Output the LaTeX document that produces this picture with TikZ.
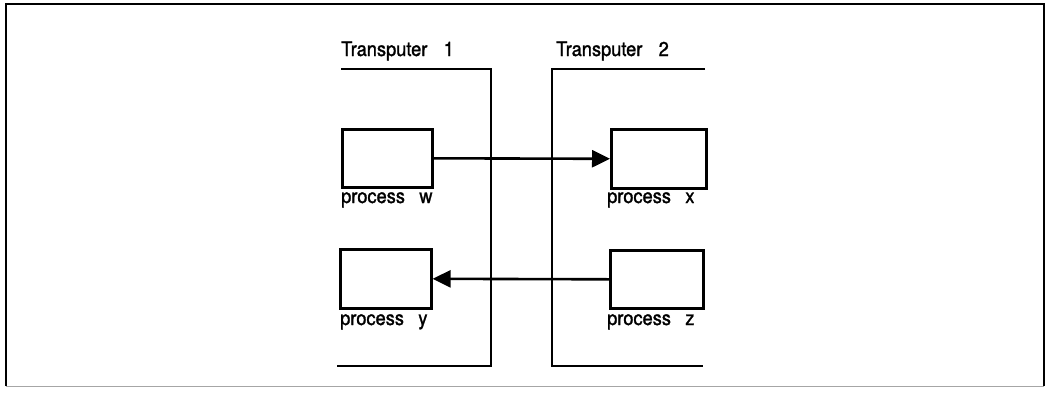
\documentclass[tikz,border=0pt]{standalone}
\usepackage{fontspec}
\setmainfont{TeX Gyre Heros}[FakeBold=1.5]
\usetikzlibrary{arrows.meta}
\begin{document}
\begin{tikzpicture}[x=1pt,y=-1pt,
  frameline/.style={line width=2.4pt},
  wall/.style={line width=2.6pt},
  procbox/.style={draw,line width=2.6pt,anchor=north west,inner sep=0pt},
  lbl/.style={anchor=base west,inner sep=0pt,font=\fontsize{19}{21}\selectfont},
  msg/.style={line width=2.6pt,-{Triangle[length=18pt,width=17pt]}}]
\useasboundingbox (0,0) rectangle (1049,397);
% outer frame
\draw[frameline] (6,386) -- (6,4) -- (1044,4) -- (1044,386);
\draw[line width=1pt,black!35] (6,386) -- (1044,386);
% transputer boundaries
\coordinate (t1a) at (341,69);
\coordinate (t1b) at (491,69);
\coordinate (t1c) at (491,366);
\coordinate (t1d) at (337,366);
\draw[wall] (t1a) -- (t1b) -- (t1c) -- (t1d);
\coordinate (t2a) at (705,69);
\coordinate (t2b) at (552,69);
\coordinate (t2c) at (552,366);
\coordinate (t2d) at (703,366);
\draw[wall] (t2a) -- (t2b) -- (t2c) -- (t2d);
% labels
\node[lbl] (lt1) at (341,56) {\scalebox{0.96}[1.05]{Transputer\hspace{17pt}1}};
\node[lbl] (lt2) at (556,56) {\scalebox{0.96}[1.05]{Transputer\hspace{17pt}2}};
% process boxes
\node[procbox,minimum width=90pt,minimum height=58pt] (w) at (341,128) {};
\node[procbox,minimum width=95pt,minimum height=59pt] (x) at (610,128) {};
\node[procbox,minimum width=91pt,minimum height=59pt] (y) at (339,248) {};
\node[procbox,minimum width=93pt,minimum height=58pt] (z) at (609,249) {};
\node[lbl] (lw) at (341,203) {\scalebox{0.96}[1.05]{process\hspace{15pt}w}};
\node[lbl] (lx) at (607,203) {\scalebox{0.96}[1.05]{process\hspace{15pt}x}};
\node[lbl] (ly) at (340,325) {\scalebox{0.96}[1.05]{process\hspace{15pt}y}};
\node[lbl] (lz) at (607,325) {\scalebox{0.96}[1.05]{process\hspace{15pt}z}};
% channels
\draw[msg] (w.east) -- (x.west);
\draw[msg] (z.west) -- (y.east);
\end{tikzpicture}
\end{document}
